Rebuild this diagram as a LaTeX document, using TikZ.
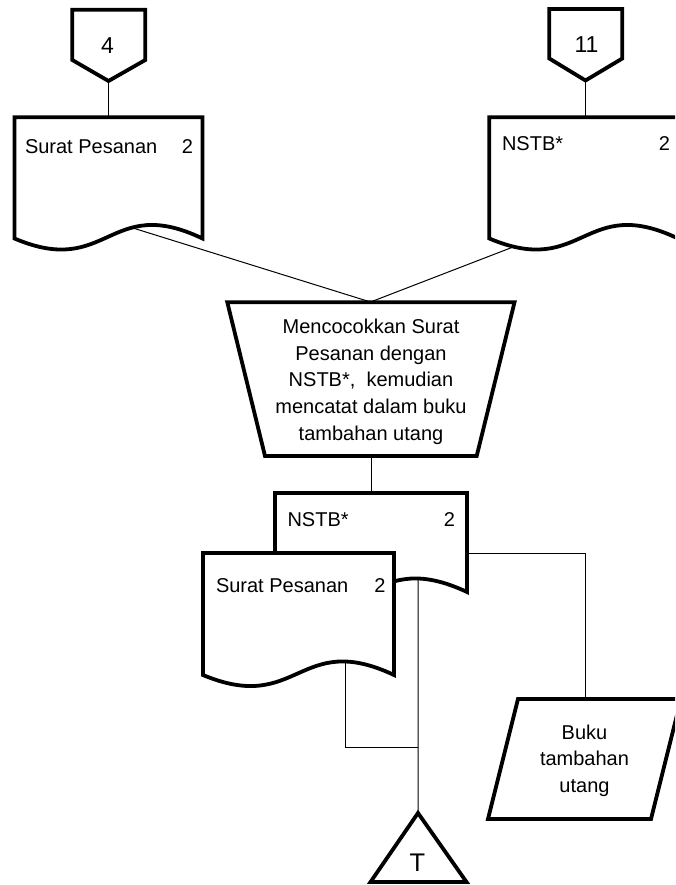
\documentclass[tikz,border=0pt]{standalone}
\usepackage{fontspec}
\setmainfont{Liberation Sans}

% document symbol: #1 name, #2 left x, #3 top y, #4 right x, #5 y of the lower corners,
% #6 curve parameter of the tap point on the wavy edge (measured from the right end)
\newcommand\docsymbol[6]{%
  \draw[symb, fill=white] (#2,#3) coordinate (#1-nw) -- (#4,#3) coordinate (#1-ne)
    -- (#4,#5) coordinate (#1-se)
    .. controls ({(#2+#4)/2},{#5-45}) and ({(#2+#4)/2},{#5+40}) .. (#2,#5)
    coordinate[pos=#6] (#1-tap) coordinate (#1-sw) -- cycle;%
}

\begin{document}
\begin{tikzpicture}[x=1pt, y=-1pt,
  symb/.style={line width=3.8pt, line join=miter},
  conn/.style={line width=1pt},
  txt/.style={font=\fontsize{20}{26.7}\selectfont, inner sep=0pt, outer sep=0pt},
  bigtxt/.style={font=\fontsize{23}{27}\selectfont, inner sep=0pt, outer sep=0pt},
]
\useasboundingbox (0,0) rectangle (675,885);
\clip (0,0) rectangle (675,885);

% ---- key points of the symbols
\coordinate (c4-tip) at (108.5,81);
\coordinate (c11-tip) at (585.5,80.5);
\coordinate (pr-n) at (370.5,302);
\coordinate (pr-s) at (371,456);
\coordinate (ns2-r) at (467,553);
\coordinate (bk-n) at (585,699);
\coordinate (tri-apex) at (418,813);
\coordinate (join) at (418,747);

% ---- off-page connectors
\draw[symb] (72.3,9.7) -- (145.3,9.7) -- (145.3,60) -- (c4-tip) -- (72.3,60) -- cycle;
\node[bigtxt, anchor=base] (c4-label) at (107.5,53.3) {4};
\draw[symb] (549.3,9) -- (622.3,9) -- (622.3,58.5) -- (c11-tip) -- (549.3,58.5) -- cycle;
\node[bigtxt, anchor=base] (c11-label) at (586.5,52.3) {11};

% ---- incoming documents
\docsymbol{sp1}{14.5}{117.3}{202.5}{238.5}{0.34}
\node[txt, anchor=base west] (sp1-title) at (25,154) {Surat Pesanan};
\node[txt, anchor=base east] (sp1-copy) at (193,154) {2};

\docsymbol{ns1}{489.3}{117.3}{678}{238.5}{0.905}
\node[txt, anchor=base west] (ns1-title) at (502,151) {NSTB*};
\node[txt, anchor=base east] (ns1-copy) at (670,151) {2};

\draw[conn] (c4-tip) -- (c4-tip |- sp1-nw);
\draw[conn] (c11-tip) -- (c11-tip |- ns1-nw);

% ---- manual operation
\draw[conn] (sp1-tap) -- (pr-n);
\draw[conn] (ns1-tap) -- (pr-n);
\draw[symb, fill=white] (227.3,302.3) coordinate (pr-nw) -- (514.5,302.3) coordinate (pr-ne)
  -- (476.7,456) coordinate (pr-se) -- (265,456) coordinate (pr-sw) -- cycle;
\node[txt, anchor=north, align=center] (pr-text) at (371,318.9)
  {Mencocokkan Surat\\Pesanan dengan\\NSTB*, \ kemudian\\mencatat dalam buku\\tambahan utang};

% ---- outgoing documents
\docsymbol{ns2}{275}{493}{467}{592}{0.207}
\node[txt, anchor=base west] (ns2-title) at (287.5,526) {NSTB*};
\node[txt, anchor=base east] (ns2-copy) at (455,526) {2};

\docsymbol{sp2}{203}{553}{394}{675}{0.205}
\node[txt, anchor=base west] (sp2-title) at (216,592) {Surat Pesanan};
\node[txt, anchor=base east] (sp2-copy) at (385.5,592) {2};

\draw[conn] (pr-s) -- (pr-s |- ns2-nw);

% ---- flows to the ledger and the file
\draw[conn] (ns2-r) -| (bk-n);
\draw[conn] (ns2-tap) -- (tri-apex);
\draw[conn] (sp2-tap) |- (join);

% ledger (parallelogram)
\draw[symb, fill=white] (518,699) -- (681,699) -- (651,819) -- (488,819) -- cycle;
\node[txt, anchor=north, align=center] (bk-text) at (584.5,724.6) {Buku\\tambahan\\utang};

% file (triangle)
\draw[symb, fill=white] (tri-apex) -- (466.5,882) -- (370.5,882) -- cycle;
\node[anchor=base, inner sep=0pt, font=\fontsize{25.5}{30}\selectfont] (tri-label) at (417.5,871.5) {T};
\end{tikzpicture}
\end{document}
